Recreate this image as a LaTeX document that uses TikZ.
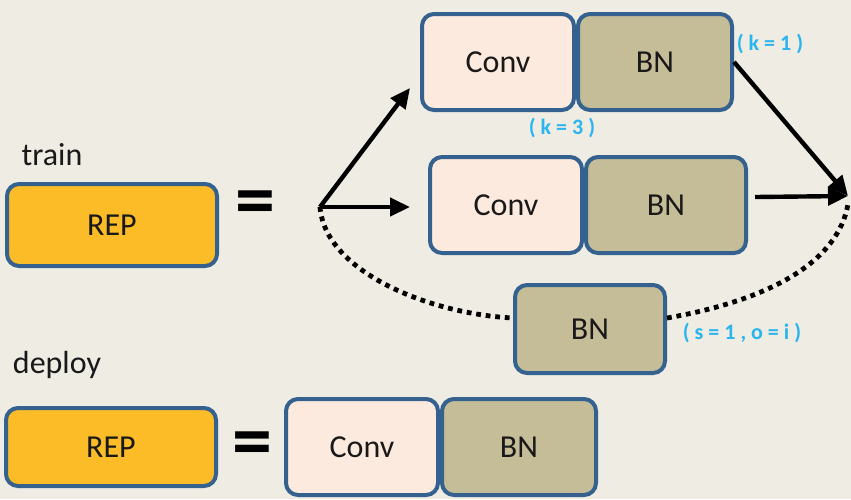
\documentclass[tikz,border=0pt]{standalone}
\usepackage{fontspec}
\setmainfont{Carlito}
\usepackage{xcolor}
\usetikzlibrary{arrows.meta,positioning}
\definecolor{bgbeige}{HTML}{EEECE3}
\definecolor{boxblue}{HTML}{35618E}
\definecolor{convpink}{HTML}{FDEADF}
\definecolor{bnkhaki}{HTML}{C4BD97}
\definecolor{repyellow}{HTML}{FBBC27}
\definecolor{kcyan}{HTML}{2BB5EE}

\tikzset{
  blk/.style={draw=boxblue, line width=2pt, rounded corners=6pt,
    minimum height=48pt, text=black!90, font=\fontsize{16}{16}\selectfont},
  convbox/.style={blk, fill=convpink, minimum width=76pt},
  bnbox/.style={blk, fill=bnkhaki, minimum width=77pt},
  repbox/.style={blk, fill=repyellow, minimum width=105pt, minimum height=41pt},
  note/.style={text=kcyan, font=\bfseries\fontsize{11}{11}\selectfont},
  eqsign/.style={font=\bfseries\fontsize{40}{40}\selectfont},
  flow/.style={line width=2.2pt, -{Triangle[length=10pt,width=9pt]}},
  dots/.style={line width=2.4pt, dash pattern=on 2.4pt off 2.4pt},
}

\begin{document}
\begin{tikzpicture}[x=0.5pt, y=-0.5pt]
  \path[use as bounding box, fill=bgbeige] (0,0) rectangle (851,499);

  \node[text=black!90, font=\fontsize{16}{16}\selectfont] (trainlbl) at (52,155) {train};
  \node[repbox] (reptrain) at (112,225) {REP};
  \node[eqsign] (eqtrain) at (255,209) {=};

  \node[convbox] (conv1) at (498,62) {Conv};
  \node[bnbox, right=0pt of conv1] (bn1) {BN};
  \node[convbox] (conv2) at (506,205) {Conv};
  \node[bnbox, minimum width=80pt, right=0pt of conv2] (bn2) {BN};
  \node[bnbox, minimum width=75pt, minimum height=44pt] (bn3) at (590,329) {BN};

  \node[note] (k1) at (770,44) {( k = 1 )};
  \node[note] (k3) at (562,128) {( k = 3 )};
  \node[note] (so) at (742,333) {( s = 1 , o = i )};

  \coordinate (src) at (320,207);
  \coordinate (tip1) at (410,88);
  \coordinate (tip2) at (410,207);
  \coordinate (out2) at (755,197);
  \coordinate (sink) at (848,196);

  \draw[flow] (src) -- (tip1);
  \draw[flow] (src) -- (tip2);
  \draw[flow] (bn1.east) -- (sink);
  \draw[flow] (out2) -- (sink);
  \draw[dots] (src) .. controls (325,272) and (430,314) .. ([yshift=5.5pt]bn3.west);
  \draw[dots] ([yshift=5.5pt]bn3.east) .. controls (770,300) and (838,262) .. ([yshift=-4pt]sink);

  \node[text=black!90, font=\fontsize{16}{16}\selectfont] (deploylbl) at (57,365) {deploy};
  \node[repbox, minimum height=39pt] (repdeploy) at (111,447) {REP};
  \node[eqsign] (eqdeploy) at (252,450) {=};
  \node[convbox] (conv3) at (362,447) {Conv};
  \node[bnbox, right=0pt of conv3] (bn4) {BN};
\end{tikzpicture}
\end{document}
